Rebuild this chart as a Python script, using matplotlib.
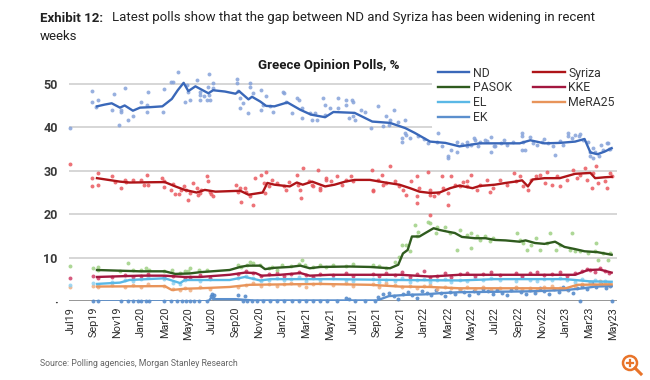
import numpy as np
import matplotlib.pyplot as plt
from matplotlib.patches import Circle
from matplotlib.lines import Line2D

plt.rcParams['font.family'] = ['Roboto', 'DejaVu Sans']

# x axis: months since Jul 2019
tick_pos = list(range(0, 47, 2))
tick_labels = ["Jul19", "Sep19", "Nov19", "Jan20", "Mar20", "May20", "Jul20", "Sep20",
               "Nov20", "Jan21", "Mar21", "May21", "Jul21", "Sep21", "Nov21", "Jan22",
               "Mar22", "May22", "Jul22", "Sep22", "Nov22", "Jan23", "Mar23", "May23"]

# --- ND ---
nd_trend_m = [2.25, 2.9, 3.5, 4.2, 4.6, 5.3, 5.9, 6.7, 7.8, 8.6, 9.1, 9.6, 10.0, 10.6, 11.7,
              12.1, 13.1, 14.0, 14.3, 15.1, 15.4, 16.1, 16.6, 17.3, 18.4, 19.5, 20.4, 21.6,
              22.3, 24.1, 25.6, 27.1, 28.4, 29.2, 30.5, 31.8, 33.0, 34.7, 36.4, 38.1, 39.0,
              40.2, 41.5, 42.8, 43.6, 44.1, 44.7, 45.3, 45.9]
nd_trend_v = [44.8, 45.2, 45.5, 44.5, 45.0, 43.8, 44.5, 44.6, 44.8, 46.5, 48.5, 50.2, 48.3,
              49.4, 47.8, 48.5, 48.2, 47.7, 48.3, 46.4, 47.0, 45.9, 44.9, 44.8, 45.7, 44.0,
              42.9, 42.3, 43.5, 43.3, 41.3, 41.0, 39.8, 38.7, 36.7, 36.4, 35.6, 36.3, 36.3,
              36.3, 37.0, 36.3, 36.4, 36.7, 37.3, 34.2, 33.8, 34.4, 35.2]
nd_poll_m = [0.0, 1.85, 1.85, 2.3, 2.2, 3.5, 3.7, 4.1, 4.3, 4.3, 4.6, 4.85, 5.3, 6.0, 6.5,
             6.6, 6.5, 7.85, 7.9, 8.5, 8.7, 9.1, 9.7, 9.85, 10.0, 10.1, 10.7, 11.0, 11.0,
             11.0, 11.3, 11.55, 11.75, 11.7, 11.75, 11.8, 12.1, 12.1, 14.1, 14.15, 14.2,
             14.4, 14.4, 14.6, 15.1, 15.2, 15.2, 15.5, 16.2, 16.3, 16.2, 16.6, 16.9, 17.2,
             18.05, 18.1, 18.3, 18.8, 19.2, 19.4, 19.6, 19.6, 20.3, 20.45, 20.7, 20.9, 21.4,
             21.6, 21.6, 22.0, 22.7, 22.7, 23.4, 23.4, 23.9, 24.0, 24.0, 23.6, 24.1, 24.6,
             25.0, 25.5, 26.1, 26.5, 26.8, 27.0, 27.1, 27.4, 27.8, 28.1, 28.1, 28.4, 28.4,
             28.5, 28.8, 29.5, 30.0, 30.35, 31.1, 31.2, 31.5, 32.0, 32.05, 32.3, 32.75,
             32.75, 33.2, 33.6, 33.6, 34.0, 34.2, 34.3, 34.6, 34.7, 35.15, 35.3, 35.7, 35.7,
             35.9, 36.0, 36.5, 36.8, 37.0, 37.5, 38.3, 38.3, 38.3, 38.4, 38.55, 39.0, 39.25,
             39.6, 40.0, 40.2, 40.5, 40.9, 41.1, 41.5, 41.8, 42.2, 42.2, 42.5, 42.8, 43.1,
             43.2, 43.5, 43.9, 44.1, 44.1, 44.3, 44.3, 44.5, 44.8, 45.0, 45.2, 45.5, 45.6,
             45.7, 45.8]
nd_poll_v = [39.9, 48.4, 45.9, 46.3, 44.6, 44.0, 47.6, 40.6, 44.0, 43.4, 49.0, 41.6, 42.6,
             45.9, 45.2, 48.2, 43.5, 43.6, 48.8, 50.5, 50.5, 52.7, 45.9, 49.8, 48.2, 46.3,
             50.9, 48.0, 47.4, 46.2, 47.1, 46.3, 52.3, 49.3, 47.4, 46.3, 50.2, 48.9, 51.1,
             50.2, 48.4, 46.7, 44.4, 45.6, 43.3, 50.2, 49.3, 47.9, 48.6, 45.2, 43.9, 47.1,
             44.8, 43.6, 48.2, 47.9, 45.9, 43.3, 46.7, 46.3, 44.4, 42.1, 43.3, 41.7, 43.3,
             41.7, 46.7, 45.0, 42.9, 44.4, 46.7, 44.4, 46.3, 45.2, 46.3, 45.9, 42.5, 42.1,
             41.7, 44.0, 43.5, 39.8, 44.8, 40.2, 42.5, 40.5, 41.7, 43.9, 41.3, 36.7, 37.5,
             38.7, 41.7, 38.3, 37.5, 38.0, 37.2, 36.4, 36.7, 38.7, 35.8, 33.3, 32.9, 34.8,
             36.7, 34.4, 36.2, 36.7, 35.6, 36.0, 37.5, 37.1, 35.6, 36.7, 37.1, 36.8, 34.2,
             37.7, 35.6, 35.8, 36.4, 37.0, 36.0, 36.5, 38.7, 38.0, 34.8, 36.7, 34.8, 37.7,
             36.4, 35.9, 36.7, 37.3, 36.4, 35.6, 33.7, 36.9, 35.9, 38.7, 38.0, 37.5, 38.3,
             38.0, 38.4, 37.1, 36.5, 34.4, 33.3, 32.9, 35.2, 34.2, 33.5, 35.9, 34.8, 36.4,
             36.4, 35.0, 35.0]

# --- Syriza ---
syr_trend_m = [2.25, 4.2, 5.0, 8.0, 8.9, 9.7, 10.7, 11.4, 12.3, 14.4, 15.1, 16.3, 16.7, 17.3,
               18.6, 19.2, 19.7, 20.5, 21.6, 22.4, 23.3, 24.1, 25.4, 26.7, 27.9, 28.8, 29.6,
               30.5, 31.3, 32.2, 33.0, 34.1, 34.7, 36.0, 36.9, 37.7, 38.3, 38.8, 39.2, 40.2,
               41.5, 42.8, 44.1, 44.5, 45.3, 45.9]
syr_trend_v = [28.3, 27.5, 27.3, 27.4, 26.4, 25.6, 25.0, 25.6, 25.2, 25.4, 24.5, 25.0, 27.2,
               26.8, 26.4, 27.3, 26.8, 27.5, 26.4, 26.8, 27.5, 27.9, 27.9, 27.3, 26.8, 26.0,
               25.2, 24.9, 25.0, 26.0, 26.6, 26.0, 26.5, 26.8, 27.2, 27.5, 27.8, 26.4, 28.0,
               28.3, 28.3, 29.3, 29.5, 28.3, 28.5, 28.6]
syr_poll_m = [0.0, 1.85, 1.85, 2.3, 2.3, 3.5, 3.8, 4.3, 4.6, 4.7, 5.3, 6.0, 6.2, 6.5, 6.6,
              7.8, 7.9, 7.9, 8.5, 8.7, 8.9, 9.2, 9.4, 9.6, 9.8, 10.0, 10.1, 10.4, 10.7, 10.85,
              11.0, 11.1, 11.55, 11.7, 11.8, 11.9, 12.1, 14.0, 14.2, 14.4, 14.5, 14.8, 14.9,
              15.2, 15.5, 15.65, 16.2, 16.4, 16.5, 16.6, 16.8, 17.1, 17.5, 18.1, 18.3, 18.5,
              19.2, 19.3, 19.5, 19.55, 19.75, 20.2, 20.45, 20.6, 21.0, 21.2, 21.15, 21.7,
              21.7, 22.1, 22.6, 23.0, 23.4, 23.8, 24.0, 25.55, 25.7, 25.7, 26.1, 26.4, 26.5,
              26.8, 27.1, 27.5, 27.9, 28.2, 28.5, 28.9, 29.4, 29.4, 29.4, 29.6, 30.35, 30.5,
              30.5, 30.5, 30.8, 31.2, 31.5, 31.6, 32.05, 32.05, 32.3, 32.6, 33.0, 33.3, 33.6,
              33.6, 34.0, 34.45, 34.7, 35.3, 35.55, 35.8, 36.4, 37.0, 37.6, 37.8, 38.1, 38.4,
              38.8, 39.1, 39.5, 39.8, 40.25, 40.4, 40.8, 41.25, 41.5, 42.1, 42.65, 42.95,
              43.2, 43.6, 43.8, 44.2, 44.35, 44.6, 44.75, 45.3, 45.5, 45.8, 45.9]
syr_poll_v = [31.6, 28.3, 26.6, 29.5, 26.8, 28.7, 27.5, 26.0, 27.9, 27.5, 27.9, 27.9, 26.8,
              29.1, 26.8, 28.3, 27.6, 26.2, 25.6, 27.0, 24.7, 24.6, 25.6, 26.4, 25.6, 23.3,
              24.9, 27.2, 26.0, 24.4, 24.9, 25.6, 28.7, 27.6, 25.2, 24.7, 24.1, 26.8, 25.2,
              26.0, 22.9, 26.0, 25.2, 24.1, 22.2, 28.3, 29.1, 27.2, 24.9, 29.6, 26.4, 27.9,
              27.2, 26.4, 25.6, 27.5, 29.1, 26.8, 25.6, 23.7, 30.6, 27.6, 26.8, 26.4, 30.1,
              26.0, 25.6, 28.3, 27.9, 27.6, 28.7, 26.8, 27.9, 28.7, 27.6, 30.2, 25.6, 25.4,
              27.9, 29.1, 26.8, 27.2, 31.0, 27.6, 26.4, 25.6, 24.5, 27.6, 28.7, 24.1, 22.6,
              26.0, 29.8, 25.6, 24.5, 19.9, 24.1, 24.9, 28.7, 26.0, 24.9, 22.2, 28.7, 26.8,
              26.4, 27.5, 27.6, 26.4, 29.1, 25.6, 26.8, 27.9, 25.2, 26.0, 27.9, 26.8, 29.5,
              27.6, 28.7, 26.4, 25.6, 27.9, 28.7, 29.1, 27.2, 29.8, 26.8, 28.7, 26.4, 27.9,
              30.2, 28.3, 29.1, 30.6, 27.9, 26.0, 29.5, 31.0, 27.2, 27.6, 26.0, 29.5, 28.7]

# --- PASOK ---
pas_trend_m = [2.25, 5.9, 8.0, 8.9, 10.1, 11.0, 13.5, 14.4, 15.0, 16.1, 16.5, 17.3, 18.6,
               19.5, 20.3, 21.2, 23.7, 25.4, 27.1, 27.8, 28.2, 28.6, 28.96, 29.6, 30.1, 30.8,
               31.3, 32.0, 32.6, 33.2, 34.3, 35.2, 36.0, 36.9, 38.1, 38.6, 39.4, 40.2, 41.1,
               41.9, 42.8, 43.6, 44.7, 45.9]
pas_trend_v = [7.2, 6.9, 6.9, 6.3, 6.4, 6.7, 7.2, 7.9, 8.2, 8.2, 7.4, 7.7, 7.9, 8.2, 7.6, 7.9,
               8.0, 7.9, 7.6, 8.4, 11.0, 11.8, 14.9, 14.9, 15.7, 16.8, 16.4, 16.0, 15.7, 14.8,
               14.5, 14.5, 14.1, 14.0, 13.7, 14.0, 13.4, 13.2, 13.7, 12.5, 12.0, 11.5, 11.3,
               10.7]
pas_poll_m = [0.0, 1.9, 2.3, 2.3, 4.2, 4.9, 5.3, 6.0, 6.4, 6.7, 7.9, 8.6, 9.3, 9.7, 10.0,
              10.1, 10.9, 11.6, 14.2, 14.5, 14.95, 15.2, 15.5, 16.1, 16.8, 17.1, 17.5, 17.9,
              18.7, 19.4, 19.6, 19.9, 20.6, 21.2, 21.7, 22.3, 23.4, 24.0, 25.7, 26.2, 26.8,
              27.5, 27.9, 28.1, 28.5, 28.8, 29.2, 29.5, 29.4, 30.35, 30.5, 31.0, 31.1, 31.8,
              32.2, 32.75, 33.0, 33.6, 34.0, 34.0, 34.45, 34.7, 35.15, 35.6, 35.8, 37.85,
              38.1, 38.4, 38.7, 39.1, 39.5, 39.8, 40.4, 40.7, 41.2, 41.5, 42.4, 42.5, 42.8,
              43.2, 43.9, 44.5, 44.6, 44.75, 45.2, 45.6, 45.8]
pas_poll_v = [8.1, 7.6, 7.8, 7.2, 6.9, 8.8, 7.2, 7.2, 7.6, 7.2, 6.9, 7.2, 6.6, 7.0, 6.9, 7.6,
              7.2, 7.3, 8.4, 7.9, 8.4, 9.1, 8.8, 8.4, 7.6, 8.0, 7.2, 8.4, 8.1, 8.6, 9.5, 8.4,
              8.0, 8.4, 8.0, 8.4, 8.1, 8.6, 8.4, 8.1, 7.6, 9.1, 10.3, 13.0, 13.0, 11.6, 17.6,
              16.0, 14.9, 18.3, 18.0, 15.7, 17.0, 17.0, 15.7, 11.8, 16.3, 15.2, 15.7, 12.2,
              14.9, 14.1, 14.9, 13.8, 14.5, 15.7, 14.1, 13.4, 11.8, 13.0, 14.5, 11.8, 13.4,
              15.8, 11.8, 13.0, 11.8, 15.8, 11.5, 11.5, 11.1, 11.5, 13.4, 9.5, 11.1, 9.5, 11.1]

# --- KKE ---
kke_trend_m = [2.25, 5.9, 8.0, 9.7, 11.0, 13.5, 14.8, 15.7, 16.2, 17.8, 19.5, 20.3, 22.0,
               28.0, 30.5, 33.0, 42.8, 43.9, 44.9, 45.9]
kke_trend_v = [5.6, 5.9, 5.9, 5.6, 5.6, 6.1, 6.6, 6.5, 5.9, 6.1, 6.5, 5.9, 6.1, 6.1, 5.7,
               6.1, 6.1, 7.2, 7.3, 6.6]
kke_poll_m = [0.0, 1.9, 2.3, 3.5, 4.6, 5.3, 6.0, 6.6, 7.9, 8.7, 9.7, 10.1, 11.0, 11.8, 14.2,
              14.9, 15.5, 16.2, 16.8, 17.5, 18.1, 18.7, 19.4, 20.0, 20.6, 21.2, 22.3, 23.4,
              24.0, 25.7, 26.2, 26.8, 27.5, 28.1, 28.8, 29.4, 30.0, 30.5, 31.1, 31.8, 32.3,
              33.0, 33.6, 34.3, 35.0, 35.7, 36.4, 37.8, 38.3, 39.0, 39.6, 40.2, 40.8, 41.5,
              42.1, 42.8, 43.4, 43.8, 44.1, 44.5, 44.9, 45.3, 45.7]
kke_poll_v = [5.3, 5.9, 5.3, 5.6, 6.0, 5.5, 5.8, 6.2, 5.6, 5.9, 5.3, 5.7, 6.1, 5.4, 6.3,
              6.9, 6.5, 5.8, 6.2, 6.6, 5.9, 6.3, 6.8, 6.0, 5.7, 6.2, 6.0, 6.4, 5.8, 6.3, 5.9,
              6.6, 6.0, 6.8, 5.7, 6.3, 6.9, 5.5, 5.9, 6.6, 5.6, 6.2, 6.5, 5.8, 6.3, 6.7, 6.0,
              6.5, 5.9, 6.4, 6.8, 6.0, 6.3, 6.7, 5.9, 6.5, 6.9, 7.5, 7.2, 6.8, 7.6, 7.0, 6.6]

# --- EL ---
el_trend_m = [2.25, 4.2, 5.0, 8.0, 9.3, 9.7, 13.5, 14.8, 16.1, 17.0, 22.0, 28.0, 33.0, 36.0,
              42.0, 44.0, 45.9]
el_trend_v = [4.0, 4.3, 4.9, 5.3, 4.2, 4.9, 4.9, 5.6, 4.8, 5.1, 5.1, 4.9, 4.8, 5.1, 5.1,
              4.6, 4.5]
el_poll_m = [0.0, 1.9, 2.3, 3.5, 4.6, 5.3, 6.0, 6.6, 7.9, 8.7, 9.3, 9.7, 10.1, 11.0, 11.8,
             14.2, 14.9, 15.5, 16.2, 16.8, 17.5, 18.1, 18.7, 19.4, 20.0, 20.6, 21.2, 22.3,
             23.4, 24.0, 25.7, 26.2, 26.8, 27.5, 28.1, 28.8, 29.4, 30.0, 30.5, 31.1, 31.8,
             32.3, 33.0, 33.6, 34.3, 35.0, 35.7, 36.4, 37.8, 38.3, 39.0, 39.6, 40.2, 40.8,
             41.5, 42.1, 42.8, 43.4, 44.1, 44.5, 44.9, 45.3, 45.7]
el_poll_v = [3.7, 4.2, 3.8, 4.5, 5.0, 4.6, 5.2, 5.5, 5.1, 4.2, 4.0, 4.8, 5.3, 4.6, 5.1, 5.3,
             5.9, 5.4, 4.6, 5.0, 5.4, 4.8, 5.2, 5.6, 4.7, 5.3, 4.9, 5.4, 5.0, 4.6, 5.2, 4.5,
             5.0, 4.7, 5.3, 4.4, 4.9, 5.2, 4.5, 4.8, 5.1, 4.4, 5.0, 4.7, 5.3, 4.9, 5.4, 5.0,
             4.7, 5.5, 5.0, 4.6, 5.2, 4.8, 5.3, 5.0, 4.5, 5.1, 4.3, 4.8, 4.0, 4.6, 4.2]

# --- MeRA25 ---
mera_trend_m = [2.25, 8.0, 8.6, 9.7, 11.0, 13.5, 15.2, 21.0, 25.4, 27.9, 30.5, 33.0, 42.0,
                43.0, 45.9]
mera_trend_v = [3.4, 3.5, 2.6, 2.9, 3.0, 3.3, 3.8, 4.0, 3.8, 3.4, 3.3, 3.0, 3.0, 3.8, 3.9]
mera_poll_m = el_poll_m
mera_poll_v = [3.4, 3.6, 3.2, 3.8, 3.3, 3.7, 3.4, 3.9, 3.5, 2.8, 2.5, 3.0, 2.7, 3.2, 2.9,
               3.3, 3.7, 4.1, 3.6, 4.0, 3.5, 3.9, 4.2, 3.7, 3.4, 4.0, 4.3, 3.8, 4.1, 3.6, 3.9,
               3.4, 4.2, 3.7, 3.2, 3.6, 3.0, 3.5, 3.8, 2.9, 3.4, 3.1, 2.7, 3.2, 2.8, 3.3, 2.6,
               3.0, 3.4, 2.9, 3.1, 2.7, 3.3, 3.6, 3.0, 2.8, 3.5, 4.0, 4.4, 3.7, 4.6, 4.1, 3.8]

# --- EK ---
ek_trend_m = [2.25, 11.7, 12.0, 12.3, 14.0, 15.5, 26.0, 27.0, 28.5, 30.0, 31.5, 33.0, 36.0,
              39.0, 42.0, 43.5, 44.5, 45.9]
ek_trend_v = [0.0, 0.0, 1.0, 0.5, 0.5, 0.2, 0.2, 1.2, 1.5, 1.6, 1.9, 2.1, 2.2, 2.3, 2.6,
              3.0, 3.4, 3.5]
ek_poll_m = [1.9, 2.3, 4.3, 4.9, 5.3, 5.7, 6.0, 6.4, 6.7, 7.9, 8.5, 9.0, 9.5, 9.8, 10.1,
             10.5, 10.9, 11.6, 11.9, 12.0, 12.1, 12.2, 14.2, 14.6, 14.8, 15.0, 15.4, 15.8,
             16.3, 16.9, 17.5, 18.1, 18.8, 19.4, 20.0, 20.6, 21.2, 21.8, 22.6, 23.4, 23.6,
             24.1, 25.0, 25.8, 26.1, 26.5, 27.0, 27.4, 27.8, 28.2, 28.6, 29.0, 29.4, 29.8,
             30.2, 30.6, 31.0, 31.4, 31.8, 32.2, 32.6, 33.0, 33.4, 33.8, 34.2, 34.6, 35.0,
             35.4, 35.8, 36.2, 36.6, 37.0, 37.4, 37.8, 38.2, 38.6, 39.0, 39.4, 39.8, 40.2,
             40.6, 41.0, 41.4, 41.8, 42.2, 42.6, 43.0, 43.2, 43.4, 43.8, 44.2, 44.6, 45.0,
             45.4, 45.8, 45.9]
ek_poll_v = [0, 0, 0, 0, 0, 0, 0, 0, 0, 0, 0, 0, 0, 0, 0, 0, 0, 0, 1.2, 1.8, 0.8, 1.5, 1.5,
             0, 1.2, 0, 0, 0, 0, 0, 0, 0, 0, 0, 0, 0, 0, 0, 0, 0.8, 0.6, 0, 0, 0, 1.0, 1.6,
             2.0, 1.2, 0.6, 1.8, 2.2, 1.4, 0.8, 2.4, 1.9, 1.5, 2.6, 2.0, 1.3, 2.2, 1.7, 2.8,
             2.1, 1.5, 2.4, 1.9, 2.9, 2.3, 1.6, 2.6, 2.0, 1.4, 2.5, 3.0, 2.2, 1.7, 2.7, 2.0,
             3.1, 2.4, 1.8, 2.8, 2.1, 3.2, 2.6, 2.0, 3.0, 0, 3.6, 2.8, 4.2, 3.4, 3.9, 3.1,
             3.6, 0]

parties = [
    # name, trend m, trend v, poll m, poll v, line colour, dot colour
    ("EK", ek_trend_m, ek_trend_v, ek_poll_m, ek_poll_v, "#5b8fcd", "#4d85c8"),
    ("MeRA25", mera_trend_m, mera_trend_v, mera_poll_m, mera_poll_v, "#e8945a", "#f0ae80"),
    ("EL", el_trend_m, el_trend_v, el_poll_m, el_poll_v, "#5ab8e6", "#8fd0f0"),
    ("KKE", kke_trend_m, kke_trend_v, kke_poll_m, kke_poll_v, "#a3173f", "#cf3f69"),
    ("PASOK", pas_trend_m, pas_trend_v, pas_poll_m, pas_poll_v, "#2f5b1e", "#9fd084"),
    ("Syriza", syr_trend_m, syr_trend_v, syr_poll_m, syr_poll_v, "#ae1418", "#ea5a60"),
    ("ND", nd_trend_m, nd_trend_v, nd_poll_m, nd_poll_v, "#3a68b9", "#86a3da"),
]

fig = plt.figure(figsize=(6.5, 3.8), dpi=100)
ax = fig.add_axes([0.106, 0.207, 0.843, 0.63])

for yv in [10, 20, 30, 40, 50]:
    ax.axhline(yv, color="#cfcfcf", lw=1.2, zorder=0)
ax.axhline(0, color="#8c8c8c", lw=2.0, zorder=1)

lines = {}
for name, tm, tv, pm, pv, lc, dc in parties:
    ax.scatter(pm, pv, s=8, color=dc, alpha=0.85, lw=0, zorder=2, clip_on=False)
for name, tm, tv, pm, pv, lc, dc in parties:
    ln, = ax.plot(tm, tv, color=lc, lw=1.7, zorder=3)
    lines[name] = ln

ax.set_xlim(-0.13, 46.34)
ax.set_ylim(0, 55)
ax.set_xticks(tick_pos)
ax.set_xticklabels(tick_labels, rotation=90, fontsize=7.8, color="#2e2e2e")
ax.set_yticks([0, 10, 20, 30, 40, 50])
ax.set_yticklabels(["·", "10", "20", "30", "40", "50"], fontsize=9, fontweight="bold",
                   color="#3a3a3a")
ax.tick_params(length=0, pad=4)
ax.tick_params(axis="y", pad=8)
for s in ax.spines.values():
    s.set_visible(False)

order = ["ND", "PASOK", "EL", "EK", "Syriza", "KKE", "MeRA25"]
leg = fig.legend([lines[n] for n in order], order, ncol=2, loc="upper left",
                 bbox_to_anchor=(426 / 650, 1 - 55 / 380), fontsize=8.8, frameon=True,
                 facecolor="white", edgecolor="none", framealpha=1, borderpad=0.45,
                 handlelength=2.6, handletextpad=0.3, columnspacing=1.7, labelspacing=0.15)
leg.set_zorder(5)
for t in leg.get_texts():
    t.set_color("#333333")

fig.text(329 / 650, 1 - 66 / 380, "Greece Opinion Polls, %", ha="center", va="center",
         fontsize=9.5, fontweight="bold", color="#1a1a1a")

fig.text(40 / 650, 1 - 18 / 380, "Exhibit 12:", ha="left", va="center", fontsize=9.5,
         fontweight="bold", color="#222222")
fig.text(112 / 650, 1 - 18 / 380,
         "Latest polls show that the gap between ND and Syriza has been widening in recent",
         ha="left", va="center", fontsize=9.5, color="#222222")
fig.text(40 / 650, 1 - 36 / 380, "weeks", ha="left", va="center", fontsize=9.5, color="#222222")

fig.text(40 / 650, 1 - 364 / 380, "Source: Polling agencies, Morgan Stanley Research",
         ha="left", va="center", fontsize=6.3, color="#666666")

# zoom icon in the bottom right corner
icon = "#e8742a"
fig.add_artist(Circle((6.30, 0.17), 0.07, transform=fig.dpi_scale_trans, fill=False,
                      edgecolor=icon, lw=1.8))
fig.add_artist(Line2D([6.27, 6.33], [0.17, 0.17], transform=fig.dpi_scale_trans,
                      color=icon, lw=1.6))
fig.add_artist(Line2D([6.30, 6.30], [0.14, 0.20], transform=fig.dpi_scale_trans,
                      color=icon, lw=1.6))
fig.add_artist(Line2D([6.35, 6.41], [0.12, 0.06], transform=fig.dpi_scale_trans,
                      color=icon, lw=2.2))

fig.savefig("out.png", dpi=100)
